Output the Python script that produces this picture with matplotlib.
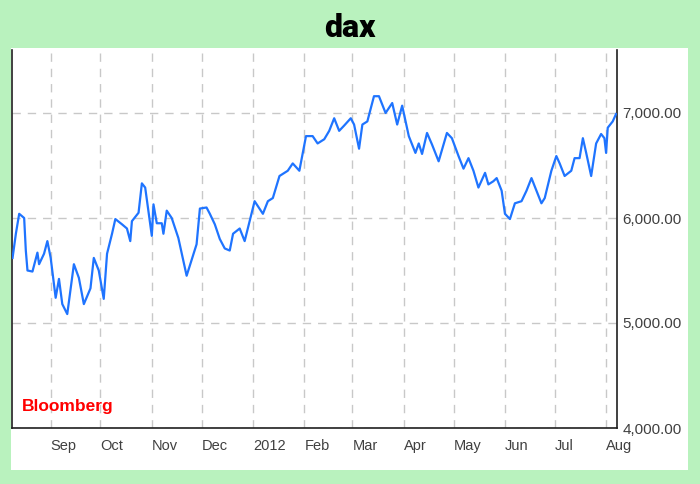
import matplotlib
matplotlib.use("Agg")
import matplotlib.pyplot as plt
import matplotlib.ticker as mticker
from datetime import datetime

# Datos (fecha, nivel del DAX)
fechas = [
    "2011-08-09", "2011-08-11", "2011-08-13", "2011-08-16", "2011-08-17", "2011-08-18",
    "2011-08-21", "2011-08-24", "2011-08-25", "2011-08-28", "2011-08-30", "2011-09-01",
    "2011-09-04", "2011-09-06", "2011-09-08", "2011-09-11", "2011-09-15", "2011-09-18",
    "2011-09-21", "2011-09-25", "2011-09-27", "2011-09-30", "2011-10-03", "2011-10-05",
    "2011-10-08", "2011-10-10", "2011-10-14", "2011-10-17", "2011-10-19", "2011-10-20",
    "2011-10-24", "2011-10-26", "2011-10-28", "2011-11-01", "2011-11-02", "2011-11-04",
    "2011-11-07", "2011-11-08", "2011-11-10", "2011-11-13", "2011-11-17", "2011-11-22",
    "2011-11-28", "2011-11-30", "2011-12-04", "2011-12-06", "2011-12-09", "2011-12-12",
    "2011-12-15", "2011-12-18", "2011-12-20", "2011-12-24", "2011-12-27", "2012-01-02",
    "2012-01-07", "2012-01-10", "2012-01-13", "2012-01-17", "2012-01-22", "2012-01-25",
    "2012-01-29", "2012-02-02", "2012-02-06", "2012-02-09", "2012-02-13", "2012-02-16",
    "2012-02-19", "2012-02-22", "2012-02-25", "2012-02-29", "2012-03-02", "2012-03-05",
    "2012-03-07", "2012-03-10", "2012-03-14", "2012-03-17", "2012-03-21", "2012-03-25",
    "2012-03-28", "2012-03-31", "2012-04-04", "2012-04-08", "2012-04-10", "2012-04-12",
    "2012-04-15", "2012-04-18", "2012-04-22", "2012-04-27", "2012-04-30", "2012-05-04",
    "2012-05-07", "2012-05-10", "2012-05-13", "2012-05-16", "2012-05-20", "2012-05-22",
    "2012-05-25", "2012-05-27", "2012-05-30", "2012-06-01", "2012-06-04", "2012-06-07",
    "2012-06-11", "2012-06-14", "2012-06-17", "2012-06-20", "2012-06-23", "2012-06-25",
    "2012-06-29", "2012-07-02", "2012-07-04", "2012-07-07", "2012-07-11", "2012-07-13",
    "2012-07-16", "2012-07-18", "2012-07-20", "2012-07-23", "2012-07-26", "2012-07-29",
    "2012-07-31", "2012-08-01", "2012-08-02", "2012-08-05", "2012-08-07",
]
valores = [
    5620, 5850, 6040, 6000, 5690, 5500,
    5490, 5670, 5560, 5660, 5780, 5620,
    5240, 5420, 5180, 5085, 5560, 5430,
    5180, 5330, 5620, 5500, 5230, 5660,
    5850, 5990, 5940, 5900, 5780, 5970,
    6050, 6330, 6290, 5830, 6130, 5950,
    5950, 5850, 6070, 6000, 5810, 5450,
    5750, 6090, 6100, 6040, 5940, 5800,
    5710, 5690, 5850, 5900, 5780, 6160,
    6040, 6160, 6190, 6400, 6450, 6520,
    6450, 6780, 6780, 6710, 6750, 6830,
    6950, 6830, 6880, 6950, 6890, 6660,
    6890, 6920, 7160, 7160, 7000, 7095,
    6890, 7070, 6780, 6620, 6710, 6610,
    6810, 6700, 6540, 6810, 6760, 6590,
    6470, 6570, 6450, 6290, 6430, 6320,
    6350, 6380, 6260, 6040, 5990, 6140,
    6160, 6260, 6380, 6260, 6140, 6190,
    6450, 6590, 6520, 6400, 6450, 6570,
    6570, 6760, 6620, 6400, 6710, 6800,
    6760, 6620, 6860, 6920, 6990,
]

inicio_meses = ["2011-09-01", "2011-10-01", "2011-11-01", "2011-12-01", "2012-01-01",
                "2012-02-01", "2012-03-01", "2012-04-01", "2012-05-01", "2012-06-01",
                "2012-07-01", "2012-08-01"]
etiquetas_meses = ["Sep", "Oct", "Nov", "Dec", "2012", "Feb", "Mar", "Apr", "May",
                   "Jun", "Jul", "Aug"]
niveles_y = [4000, 5000, 6000, 7000]

VERDE_FONDO = "#b9f2be"
AZUL_LINEA = "#1f74ff"

fechas_dt = [datetime.strptime(f, "%Y-%m-%d") for f in fechas]
meses_dt = [datetime.strptime(f, "%Y-%m-%d") for f in inicio_meses]

fig = plt.figure(figsize=(7, 4.84), dpi=100, facecolor=VERDE_FONDO)

# Panel blanco detras del grafico (un axes vacio al fondo)
panel = fig.add_axes([11 / 700, 14 / 484, 677 / 700, 422 / 484], zorder=-5)
panel.set_facecolor("white")
panel.set_xticks([])
panel.set_yticks([])
for s in panel.spines.values():
    s.set_visible(False)

ax = fig.add_axes([12 / 700, 56 / 484, 605 / 700, 378 / 484], zorder=1)
ax.set_facecolor("white")

ax.plot(fechas_dt, valores, color=AZUL_LINEA, linewidth=1.6, zorder=3)

ax.set_xlim(datetime(2011, 8, 8, 16), datetime(2012, 8, 7, 14))
ax.set_ylim(4000, 7600)

ax.set_xticks(meses_dt)
ax.set_xticklabels(etiquetas_meses, ha="left", fontsize=10.5, color="#404040",
                   family="Liberation Sans")
ax.set_yticks(niveles_y)
ax.yaxis.set_major_formatter(mticker.FuncFormatter(lambda v, p: f"{v:,.2f}"))
ax.yaxis.tick_right()
for t in ax.get_yticklabels():
    t.set_fontsize(11)
    t.set_color("#404040")
    t.set_family("Liberation Sans")
ax.tick_params(axis="both", length=0)
ax.tick_params(axis="x", pad=8)
ax.tick_params(axis="y", pad=4)

ax.grid(True, color="#c8c8c8", linestyle=(0, (6, 5)), linewidth=1.0, zorder=1)

ax.spines["top"].set_visible(False)
for lado in ["left", "right", "bottom"]:
    ax.spines[lado].set_color("#202020")
    ax.spines[lado].set_linewidth(1.2)

ax.text(0.017, 0.045, "Bloomberg", transform=ax.transAxes, color="#ff0000",
        fontsize=12.5, fontweight="bold", family="Liberation Sans", zorder=4)

fig.text(0.5, 1 - 28 / 484, "dax", ha="center", va="center", fontsize=23,
         fontweight="heavy", family=["Roboto", "DejaVu Sans"], color="black")

fig.savefig("out.png", dpi=100, facecolor=VERDE_FONDO)
